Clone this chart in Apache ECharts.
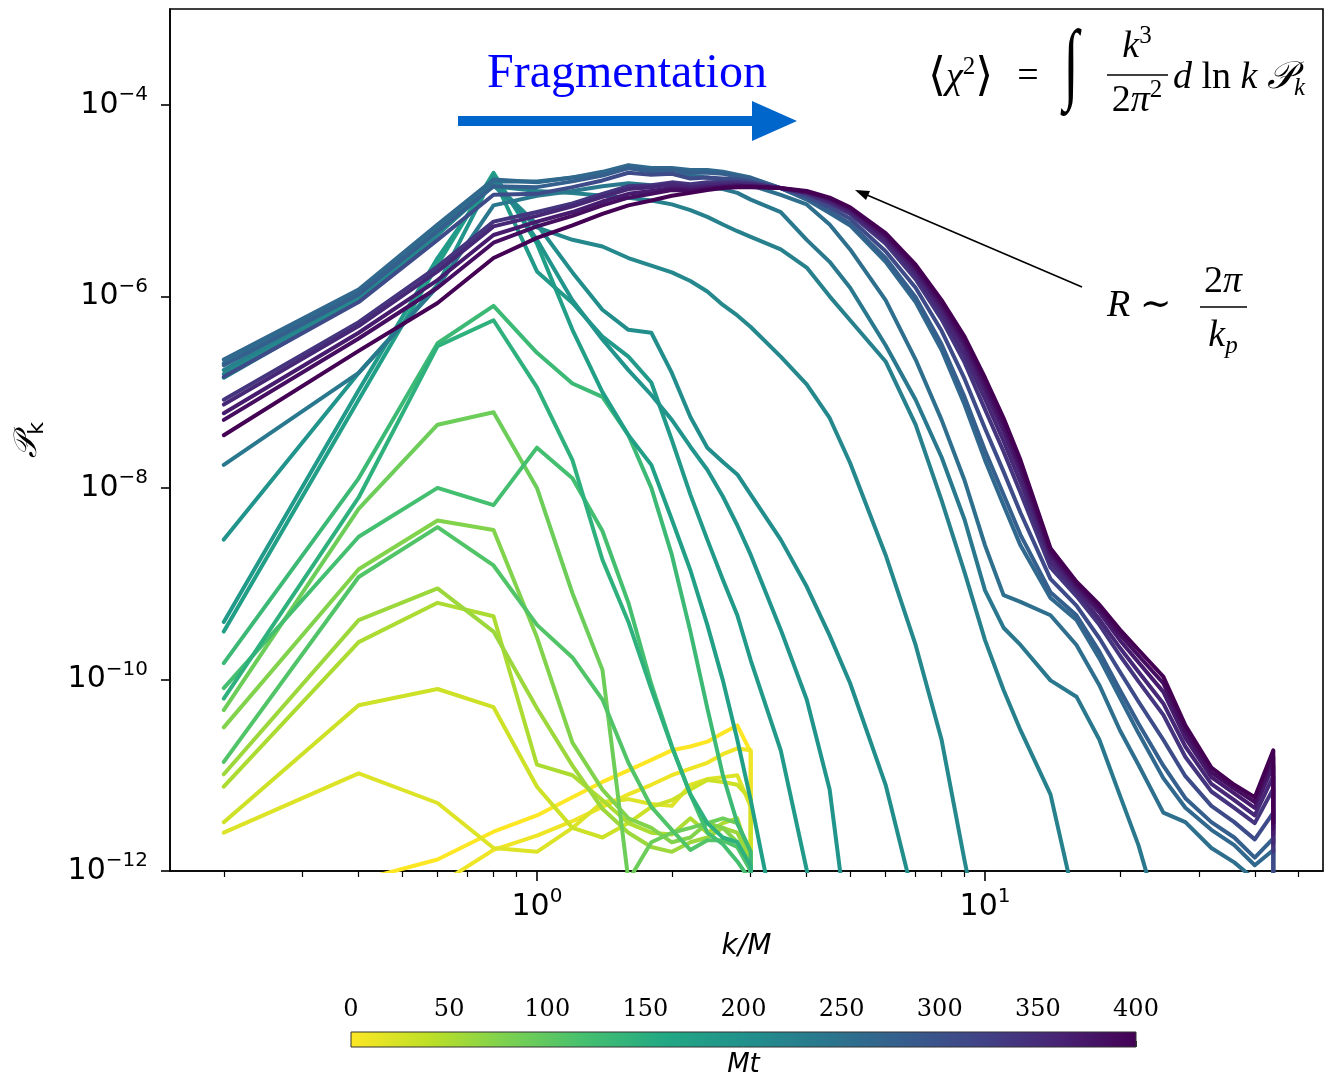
<!DOCTYPE html>
<html><head><meta charset="utf-8">
<script src="https://cdn.jsdelivr.net/npm/echarts@6/dist/echarts.min.js"></script>
<style>html,body{margin:0;padding:0;background:#fff}#c{width:1325px;height:1073px}</style>
</head><body><div id="c"></div>
<script>
// ---------------- DATA ----------------
// k/M sampling for early snapshots (last entry = spectrum drops to zero)
const K_EARLY = [0.2,0.4,0.6,0.8,1.0,1.2,1.4,1.6,1.8,2.0,2.2,2.4,2.6,2.8,3.0,3.0];
// k/M sampling for later snapshots
const K_LATE = [0.2,0.4,0.6,0.8,1.0,1.2,1.4,1.6,1.8,2.0,2.2,2.4,2.6,2.8,3.0,3.5,4,4.5,5,6,7,8,9,10,11,12,14,16,18,20,22,25,28,32,36,40,44,44];

// log10(P_k) for each snapshot, labelled by Mt
const MT_0   = [-13.5,-12.1,-11.88,-11.59,-11.42,-11.23,-11.07,-10.95,-10.84,-10.74,-10.70,-10.65,-10.56,-10.48,-10.76,-14];
const MT_10  = [-14,-13,-12.15,-11.78,-11.63,-11.48,-11.33,-11.2,-11.1,-11.0,-10.93,-10.87,-10.78,-10.72,-10.74,-14];
const MT_20  = [-11.60,-10.98,-11.29,-11.76,-11.80,-11.55,-11.28,-11.25,-11.30,-11.32,-11.10,-11.04,-11.02,-11.00,-11.33,-14];
const MT_30  = [-11.49,-10.27,-10.10,-10.29,-11.12,-11.55,-11.65,-11.50,-11.33,-11.26,-11.15,-11.05,-11.07,-11.10,-11.25,-14];
const MT_50  = [-11.12,-9.61,-9.20,-9.34,-10.89,-11.0,-11.26,-11.5,-11.6,-11.62,-11.45,-11.6,-11.5,-11.45,-11.9,-14];
const MT_60  = [-10.99,-9.38,-9.05,-9.50,-10.3,-10.9,-11.35,-11.6,-11.75,-11.8,-11.7,-11.65,-11.55,-11.6,-11.9,-14];
const MT_75  = [-10.50,-8.85,-8.34,-8.44,-9.56,-10.66,-11.15,-11.45,-11.55,-11.7,-11.65,-11.5,-11.55,-11.7,-12.0,-14];
const MT_90  = [-10.32,-8.22,-7.34,-7.21,-8.0,-9.10,-9.9,-12.1,-11.7,-11.6,-11.55,-11.5,-11.45,-11.5,-11.8,-14];
const MT_110 = [-10.86,-8.93,-8.41,-8.81,-9.43,-9.77,-10.21,-10.87,-11.33,-11.57,-11.78,-11.68,-11.68,-11.75,-12.0,-14];
const MT_120 = [-10.09,-8.51,-8.0,-8.18,-7.58,-7.9,-8.45,-9.2,-10.05,-10.7,-11.2,-11.6,-11.72,-11.9,-12.1,-14];
const MT_130 = [-9.83,-7.9,-6.49,-6.10,-6.59,-6.91,-7.05,-7.45,-8.0,-8.7,-9.5,-10.3,-11.0,-11.5,-11.8,-14];
const MT_145 = [-10.2,-8.1,-6.52,-6.25,-6.95,-7.71,-8.75,-9.4,-10.1,-10.7,-11.2,-11.5,-11.65,-11.7,-11.95,-14];

const MT_175 = [-9.50,-7.08,-5.67,-4.71,-5.45,-6.35,-7.0,-7.45,-7.76,-8.33,-8.86,-9.43,-10.01,-10.63,-11.26,-12.82,null,null,null,null,null,null,null,null,null,null,null,null,null,null,null,null,null,null,null,null,null,null];
const MT_185 = [-9.40,-6.98,-5.60,-4.76,-5.74,-6.07,-6.42,-6.63,-6.90,-7.50,-8.07,-8.54,-8.96,-9.33,-9.80,-10.74,-11.99,-13.35,null,null,null,null,null,null,null,null,null,null,null,null,null,null,null,null,null,null,null,null];
const MT_195 = [-8.54,-6.80,-5.88,-4.74,-5.41,-6.04,-6.45,-6.77,-7.03,-7.29,-7.57,-7.81,-8.09,-8.39,-8.70,-9.48,-10.21,-11.15,-12.82,null,null,null,null,null,null,null,null,null,null,null,null,null,null,null,null,null,null,null];
const MT_205 = [-6.85,-6.04,-5.36,-4.81,-5.25,-5.75,-6.14,-6.35,-6.38,-6.80,-7.26,-7.58,-7.73,-7.86,-8.07,-8.54,-9.03,-9.54,-10.04,-11.10,-12.36,null,null,null,null,null,null,null,null,null,null,null,null,null,null,null,null,null];
const MT_215 = [-6.81,-6.00,-5.35,-4.84,-5.28,-5.41,-5.48,-5.60,-5.68,-5.75,-5.84,-5.95,-6.09,-6.20,-6.32,-6.63,-6.92,-7.27,-7.74,-8.70,-9.64,-10.63,-11.89,-12.93,null,null,null,null,null,null,null,null,null,null,null,null,null,null];
const MT_225 = [-6.77,-5.97,-5.30,-4.85,-4.90,-4.92,-4.95,-4.97,-5.00,-5.04,-5.10,-5.17,-5.25,-5.32,-5.38,-5.51,-5.70,-6.00,-6.25,-6.68,-7.34,-8.13,-8.88,-9.59,-10.11,-10.53,-11.20,-12.40,null,null,null,null,null,null,null,null,null,null];
const MT_240 = [-7.76,-6.80,-5.90,-5.05,-4.95,-4.90,-4.85,-4.82,-4.84,-4.84,-4.85,-4.86,-4.88,-4.92,-4.99,-5.12,-5.41,-5.64,-5.91,-6.51,-7.08,-7.68,-8.33,-9.07,-9.46,-9.64,-10.01,-10.18,-10.63,-11.21,-11.73,-12.62,null,null,null,null,null,null];
const MT_255 = [-6.70,-5.95,-5.28,-4.80,-4.80,-4.76,-4.72,-4.66,-4.70,-4.72,-4.74,-4.76,-4.79,-4.82,-4.84,-4.94,-5.04,-5.25,-5.51,-6.04,-6.66,-7.29,-7.92,-8.60,-9.12,-9.19,-9.33,-9.64,-10.06,-10.53,-10.89,-11.39,-11.49,-11.76,-11.91,-12.09,null,null];
const MT_265 = [-6.66,-5.93,-5.25,-4.78,-4.81,-4.76,-4.70,-4.63,-4.66,-4.66,-4.68,-4.68,-4.70,-4.73,-4.76,-4.87,-4.99,-5.13,-5.26,-5.64,-6.06,-6.56,-7.13,-7.71,-8.18,-8.60,-9.15,-9.38,-9.78,-10.19,-10.56,-11.03,-11.34,-11.57,-11.73,-11.94,-11.78,-12.30];
const MT_280 = [-6.72,-5.98,-5.32,-4.85,-4.86,-4.80,-4.74,-4.66,-4.69,-4.68,-4.71,-4.71,-4.72,-4.75,-4.77,-4.87,-4.98,-5.11,-5.24,-5.60,-6.01,-6.50,-7.05,-7.61,-8.07,-8.49,-9.09,-9.33,-9.71,-10.11,-10.46,-10.90,-11.24,-11.49,-11.65,-11.86,-11.66,-12.20];
const MT_310 = [-6.84,-6.06,-5.41,-4.94,-4.93,-4.86,-4.79,-4.71,-4.73,-4.72,-4.77,-4.76,-4.77,-4.78,-4.80,-4.87,-4.96,-5.07,-5.19,-5.53,-5.91,-6.36,-6.86,-7.38,-7.83,-8.26,-8.95,-9.23,-9.57,-9.92,-10.23,-10.63,-11.01,-11.32,-11.49,-11.67,-11.39,-12.00];
const MT_340 = [-7.08,-6.27,-5.69,-5.22,-5.12,-5.03,-4.93,-4.85,-4.84,-4.81,-4.83,-4.81,-4.81,-4.81,-4.82,-4.87,-4.93,-5.03,-5.14,-5.45,-5.82,-6.24,-6.69,-7.18,-7.62,-8.05,-8.83,-9.13,-9.43,-9.75,-10.02,-10.37,-10.81,-11.17,-11.34,-11.50,-11.14,-11.80];
const MT_355 = [-7.13,-6.31,-5.74,-5.27,-5.16,-5.06,-4.96,-4.88,-4.86,-4.83,-4.86,-4.84,-4.83,-4.83,-4.83,-4.87,-4.92,-5.01,-5.12,-5.42,-5.77,-6.18,-6.61,-7.07,-7.51,-7.94,-8.77,-9.08,-9.37,-9.67,-9.92,-10.25,-10.70,-11.09,-11.26,-11.42,-11.01,-11.71];
const MT_370 = [-7.22,-6.38,-5.83,-5.36,-5.22,-5.12,-5.01,-4.93,-4.90,-4.87,-4.88,-4.86,-4.85,-4.84,-4.85,-4.87,-4.91,-4.99,-5.10,-5.39,-5.73,-6.12,-6.53,-6.98,-7.41,-7.84,-8.71,-9.04,-9.30,-9.59,-9.82,-10.13,-10.61,-11.02,-11.19,-11.34,-10.90,-11.62];
const MT_385 = [-7.29,-6.44,-5.91,-5.44,-5.27,-5.16,-5.05,-4.97,-4.93,-4.89,-4.90,-4.88,-4.86,-4.85,-4.85,-4.87,-4.91,-4.98,-5.08,-5.36,-5.70,-6.08,-6.47,-6.91,-7.33,-7.77,-8.67,-9.01,-9.26,-9.53,-9.75,-10.04,-10.54,-10.97,-11.14,-11.28,-10.81,-11.56];
const MT_400 = [-7.45,-6.57,-6.07,-5.60,-5.39,-5.26,-5.14,-5.05,-5.00,-4.95,-4.92,-4.89,-4.87,-4.86,-4.86,-4.87,-4.90,-4.97,-5.07,-5.34,-5.67,-6.04,-6.42,-6.85,-7.27,-7.71,-8.63,-8.98,-9.22,-9.48,-9.69,-9.97,-10.48,-10.92,-11.10,-11.23,-10.74,-11.50];

const SNAPSHOTS = [
  [0,K_EARLY,MT_0],[10,K_EARLY,MT_10],[20,K_EARLY,MT_20],[30,K_EARLY,MT_30],
  [50,K_EARLY,MT_50],[60,K_EARLY,MT_60],[75,K_EARLY,MT_75],[90,K_EARLY,MT_90],
  [110,K_EARLY,MT_110],[120,K_EARLY,MT_120],[130,K_EARLY,MT_130],[145,K_EARLY,MT_145],
  [175,K_LATE,MT_175],[185,K_LATE,MT_185],[195,K_LATE,MT_195],[205,K_LATE,MT_205],
  [215,K_LATE,MT_215],[225,K_LATE,MT_225],[240,K_LATE,MT_240],[255,K_LATE,MT_255],
  [265,K_LATE,MT_265],[280,K_LATE,MT_280],[310,K_LATE,MT_310],[340,K_LATE,MT_340],
  [355,K_LATE,MT_355],[370,K_LATE,MT_370],[385,K_LATE,MT_385],[400,K_LATE,MT_400]
];

// tick values
const Y_TICKS = [-12,-10,-8,-6,-4];
const X_MAJOR = [1,10];
const X_MINOR = [0.2,0.3,0.4,0.5,0.6,0.7,0.8,0.9,2,3,4,5,6,7,8,9,20,30,40,50];
const CB_TICKS = [0,50,100,150,200,250,300,350,400];
const MT_MAX = 400;

// ---------------- STYLE ----------------
const VIRIDIS = ['#440154','#482475','#414487','#355f8d','#2a788e','#21918c','#22a884','#44bf70','#7ad151','#bddf26','#fde725'];
function hex2rgb(h){return [1,3,5].map(i=>parseInt(h.substr(i,2),16));}
function viridis(t){
  t=Math.max(0,Math.min(1,t)); const s=t*10; const i=Math.min(9,Math.floor(s)); const f=s-i;
  const a=hex2rgb(VIRIDIS[i]), b=hex2rgb(VIRIDIS[i+1]);
  return 'rgb('+a.map((v,j)=>Math.round(v+(b[j]-v)*f)).join(',')+')';
}
const mtColor = mt => viridis(1-mt/MT_MAX);

const X_MIN = 0.1517, X_MAX = 56.8;
const SANS = 'DejaVu Sans';
const SERIF = 'Liberation Serif, DejaVu Serif, serif';

const series = SNAPSHOTS.map(([mt,K,V])=>({
  type:'line', xAxisIndex:0, yAxisIndex:0, silent:true, symbol:'none', showSymbol:false,
  clip:true, z:2, emphasis:{disabled:true},
  lineStyle:{width:4, color:mtColor(mt), cap:'round', join:'round'},
  itemStyle:{color:mtColor(mt)},
  data:K.map((k,i)=>[k, V[i]==null?'-':V[i]])
}));

// colorbar (gradient box filling the colorbar grid, drawn through its axes)
const cbStops = [];
for(let i=0;i<=10;i++){cbStops.push({offset:i/10,color:viridis(1-i/10)});}
series.push({
  type:'custom', xAxisIndex:2, yAxisIndex:1, silent:true, z:2,
  data:[[0,0,MT_MAX,1]],
  encode:{x:[0,2],y:[1,3]},
  renderItem:(params,api)=>{
    const p0=api.coord([api.value(0),api.value(1)]);
    const p1=api.coord([api.value(2),api.value(3)]);
    return {type:'rect',shape:{x:p0[0],y:p1[1],width:p1[0]-p0[0],height:p0[1]-p1[1]},
      style:{fill:new echarts.graphic.LinearGradient(0,0,1,0,cbStops),stroke:'#333',lineWidth:1}};
  }
});

const supRich = (fs,sfs,lh,slh)=>({
  b:{fontSize:fs,fontFamily:SANS,color:'#000',lineHeight:lh},
  s:{fontSize:sfs,fontFamily:SANS,color:'#000',lineHeight:slh,verticalAlign:'top'}
});

const mathRich = {
  u:{fontSize:38,fontFamily:SERIF,color:'#000',lineHeight:46},
  L:{fontSize:46,fontFamily:'DejaVu Serif',color:'#000',lineHeight:46},
  I:{fontSize:56,fontFamily:SERIF,color:'#000',lineHeight:60},
  i:{fontSize:38,fontFamily:SERIF,fontStyle:'italic',color:'#000',lineHeight:46},
  s:{fontSize:25,fontFamily:SERIF,color:'#000',lineHeight:28,verticalAlign:'top'},
  sub:{fontSize:25,fontFamily:SERIF,fontStyle:'italic',color:'#000',lineHeight:24,verticalAlign:'bottom'}
};
function mtext(x,y,text,align,extra){
  return Object.assign({type:'text',x:x,y:y,z:50,silent:true,
    style:{text:text,rich:mathRich,fill:'#000',align:align,verticalAlign:'middle',textAlign:align,textVerticalAlign:'middle'}},extra||{});
}

const option = {
  animation:false,
  backgroundColor:'#fff',
  grid:[
    {left:170,top:9,right:2,bottom:202,show:true,borderColor:'#000',borderWidth:1.6,backgroundColor:'rgba(0,0,0,0)',containLabel:false,outerBoundsMode:'none'},
    {left:351,top:1032,width:785,height:15,containLabel:false,outerBoundsMode:'none'}
  ],
  xAxis:[
    {gridIndex:0,type:'log',logBase:10,min:X_MIN,max:X_MAX,position:'bottom',
     axisLine:{show:true,onZero:false,lineStyle:{color:'#000',width:1.6}},
     axisTick:{show:true,customValues:X_MAJOR,length:10,lineStyle:{color:'#000',width:1.6}},
     minorTick:{show:false},splitLine:{show:false},
     axisLabel:{customValues:X_MAJOR,margin:16,formatter:v=>'{b|10}{s|'+Math.round(Math.log10(v))+'}',rich:supRich(30,20,40,26)},
     name:'k/M',nameLocation:'middle',nameGap:62,
     nameTextStyle:{fontFamily:SANS,fontSize:28,fontStyle:'italic',color:'#000'}},
    {gridIndex:0,type:'log',logBase:10,min:X_MIN,max:X_MAX,position:'bottom',offset:0,
     axisLine:{show:false,onZero:false},axisLabel:{show:false},splitLine:{show:false},minorTick:{show:false},
     axisTick:{show:true,customValues:X_MINOR,length:6,lineStyle:{color:'#000',width:1.2}}},
    {gridIndex:1,type:'value',position:'top',min:0,max:MT_MAX,interval:50,
     axisLine:{show:false},splitLine:{show:false},
     axisTick:{show:true,customValues:CB_TICKS,length:6,lineStyle:{color:'#333',width:1}},
     axisLabel:{customValues:CB_TICKS,margin:10,fontFamily:'DejaVu Serif',fontSize:24,color:'#000'}},
    {gridIndex:1,type:'value',position:'bottom',min:0,max:MT_MAX,
     axisLine:{show:false},axisTick:{show:false},axisLabel:{show:false},splitLine:{show:false},
     name:'Mt',nameLocation:'middle',nameGap:5,
     nameTextStyle:{fontFamily:SANS,fontSize:26,fontStyle:'italic',color:'#000',verticalAlign:'top'}}
  ],
  yAxis:[
    {gridIndex:0,type:'value',min:-12,max:-3,
     axisLine:{show:true,onZero:false,lineStyle:{color:'#000',width:1.6}},
     axisTick:{show:true,customValues:Y_TICKS,length:9,lineStyle:{color:'#000',width:1.6}},
     splitLine:{show:false},
     axisLabel:{customValues:Y_TICKS,margin:22,formatter:v=>'{b|10}{s|\u2212'+(-v)+'}',rich:supRich(30,20,40,26)},
     name:'{p|\uD835\uDCAB}{k|k}',nameLocation:'middle',nameGap:122,nameRotate:90,
     nameTextStyle:{rich:{p:{fontSize:32,fontFamily:'DejaVu Sans, Noto Sans',fontStyle:'italic',color:'#000',lineHeight:40},
       k:{fontSize:22,fontFamily:SANS,color:'#000',lineHeight:22,verticalAlign:'bottom'}}}},
    {gridIndex:1,type:'value',min:0,max:1,show:false}
  ],
  series:series,
  graphic:[
    {type:'text',x:487,y:74,z:50,silent:true,style:{text:'Fragmentation',fill:'#0000ff',font:'48px "Liberation Serif"',textAlign:'left',textVerticalAlign:'middle',align:'left',verticalAlign:'middle'}},
    {type:'rect',z:50,silent:true,shape:{x:458,y:116,width:300,height:10},style:{fill:'#0066cc'}},
    {type:'polygon',z:50,silent:true,shape:{points:[[752,101],[797,121],[752,141]]},style:{fill:'#0066cc'}},
    mtext(928,78,'{L|\u27E8}{i|\u03C7}{s|2}{L|\u27E9}','left'),
    mtext(1028,77,'{u|=}','center'),
    mtext(1071,68,'{I|\u222B}','center',{scaleY:1.6,originX:0,originY:0}),
    mtext(1137,47,'{i|k}{s|3}','center'),
    {type:'line',z:50,silent:true,shape:{x1:1107,y1:75,x2:1168,y2:75},style:{stroke:'#000',lineWidth:1.5}},
    mtext(1137,101,'{u|2}{i|\u03C0}{s|2}','center'),
    mtext(1173,78,'{i|d}{u| ln }{i|k }{i|\uD835\uDCAB}{sub|k}','left'),
    mtext(1107,306,'{i|R}{u| \u223C}','left'),
    mtext(1223,282,'{u|2}{i|\u03C0}','center'),
    {type:'line',z:50,silent:true,shape:{x1:1200,y1:307,x2:1247,y2:307},style:{stroke:'#000',lineWidth:1.5}},
    mtext(1223,336,'{i|k}{sub|p}','center'),
    {type:'line',z:50,silent:true,shape:{x1:1082,y1:287,x2:867,y2:195},style:{stroke:'#000',lineWidth:1.6}},
    {type:'polygon',z:50,silent:true,shape:{points:[[855,190],[870,190.9],[866,200.1]]},style:{fill:'#000'}}
  ]
};
const chart = echarts.init(document.getElementById('c'),null,{renderer:'canvas'});
chart.setOption(option);
</script></body></html>
